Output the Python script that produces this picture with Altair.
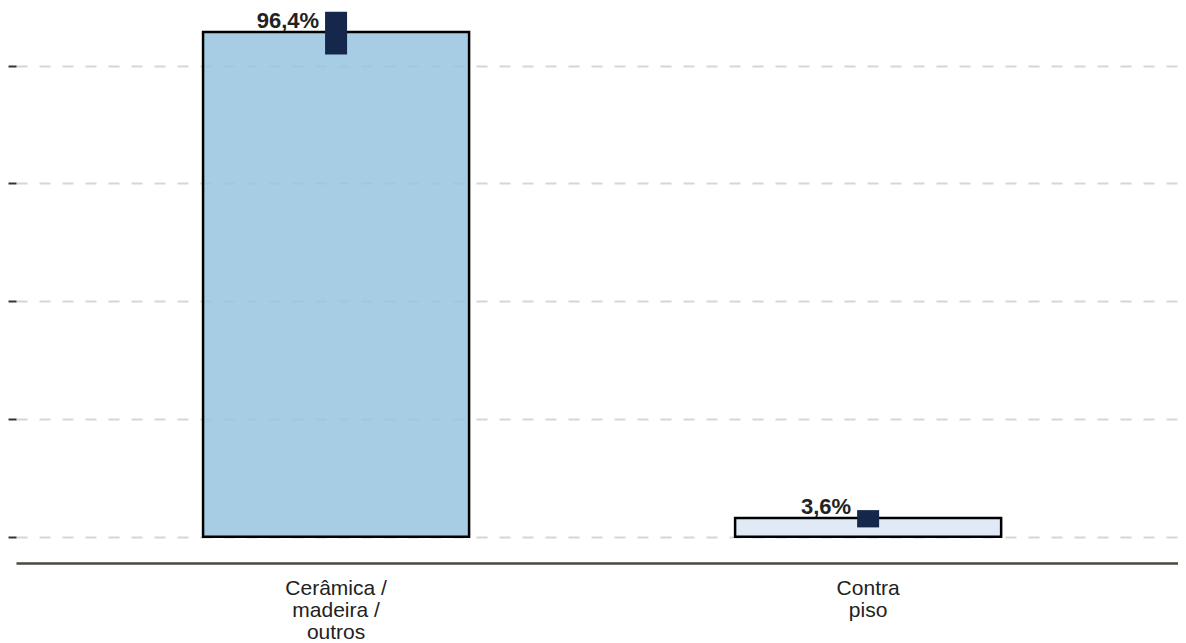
import altair as alt
import pandas as pd

categories = ["Cerâmica /\nmadeira /\noutros", "Contra\npiso"]
values = [96.4, 3.6]
lower = [92.1, 1.8]
upper = [100.3, 5.1]
bar_colors = ["#96c4de", "#d9e6f4"]
labels = [f"{v:.1f}".replace(".", ",") + "%" for v in values]
y_ticks = [0, 22.5, 45, 67.5, 90]

df = pd.DataFrame({
    "categoria": categories,
    "valor": values,
    "lo": lower,
    "hi": upper,
    "rotulo": labels,
    "cor": bar_colors,
})

FONT = "Liberation Sans"

yscale = alt.Scale(domain=[-5, 101], nice=False, zero=False)

base = alt.Chart(df).encode(
    x=alt.X(
        "categoria:N",
        sort=categories,
        title=None,
        scale=alt.Scale(paddingInner=0.5, paddingOuter=0.342, align=0.514),
        axis=alt.Axis(
            labelAngle=0,
            labelExpr="split(datum.label, '\\n')",
            labelFont=FONT,
            labelFontSize=21,
            labelLineHeight=22,
            labelColor="#222222",
            labelPadding=14,
            ticks=False,
            domainColor="#4b473c",
            domainWidth=2.5,
            grid=False,
        ),
    )
)

bars = base.mark_bar(stroke="black", strokeWidth=2.5, fillOpacity=0.85).encode(
    y=alt.Y(
        "valor:Q",
        scale=yscale,
        title=None,
        axis=alt.Axis(
            values=y_ticks,
            labels=False,
            domain=False,
            ticks=True,
            tickSize=8,
            tickWidth=2,
            tickColor="#3a3328",
            grid=True,
            gridColor="#d6d6d6",
            gridWidth=2,
            gridDash=[11, 12],
        ),
    ),
    y2=alt.datum(0),
    color=alt.Color("cor:N", scale=None, legend=None),
)

err = base.mark_bar(size=22, color="#15284b").encode(
    y=alt.Y("lo:Q", scale=yscale),
    y2="hi:Q",
)

text = base.mark_text(
    align="right",
    baseline="alphabetic",
    dx=-17,
    dy=-4,
    font=FONT,
    fontSize=22,
    fontWeight="bold",
    color="#222222",
).encode(
    y=alt.Y("valor:Q", scale=yscale),
    text="rotulo:N",
)

chart = (
    alt.layer(bars, err, text)
    .properties(
        width=1162,
        height=555,
        autosize=alt.AutoSizeParams(type="none"),
        padding={"left": 8, "top": 0, "right": 0, "bottom": 80},
    )
    .configure_view(stroke=None)
)

chart.save("out.html", embed_options={"renderer": "svg", "actions": False})
